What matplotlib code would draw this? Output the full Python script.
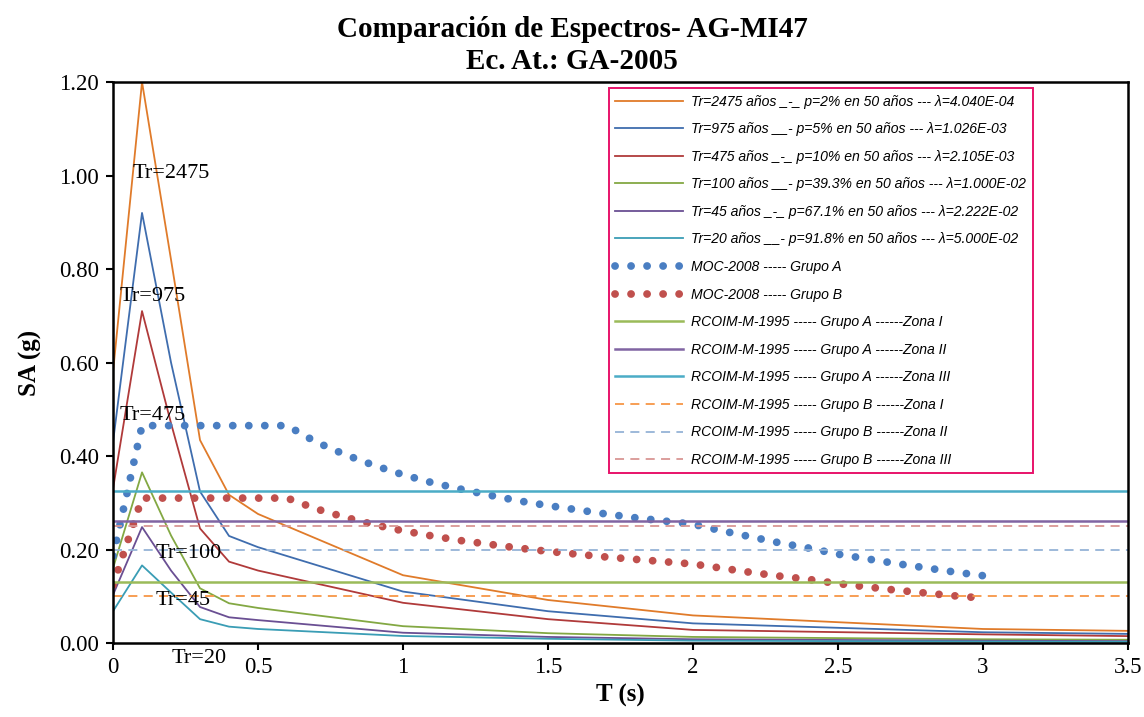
import numpy as np
import matplotlib.pyplot as plt

plt.rcParams['font.family'] = ['Liberation Serif', 'DejaVu Serif']

# espectros de amenaza uniforme (periodo en s, SA en g)
T_uhs = [0, 0.1, 0.2, 0.3, 0.4, 0.5, 1.0, 1.5, 2.0, 3.0, 4.0]
sa_2475 = [0.58, 1.20, 0.82, 0.434, 0.317, 0.276, 0.145, 0.092, 0.059, 0.030, 0.022]
sa_975 = [0.43, 0.92, 0.60, 0.324, 0.229, 0.205, 0.110, 0.068, 0.042, 0.023, 0.016]
sa_475 = [0.33, 0.71, 0.47, 0.245, 0.174, 0.155, 0.086, 0.051, 0.028, 0.0185, 0.011]
sa_100 = [0.16, 0.365, 0.23, 0.117, 0.085, 0.075, 0.036, 0.021, 0.013, 0.008, 0.006]
sa_45 = [0.103, 0.248, 0.155, 0.077, 0.055, 0.049, 0.022, 0.013, 0.008, 0.005, 0.003]
sa_20 = [0.068, 0.166, 0.108, 0.051, 0.035, 0.030, 0.015, 0.009, 0.005, 0.003, 0.002]

# MOC-2008
T_moc = [0.0, 0.1, 0.2, 0.3, 0.4, 0.5, 0.6, 0.7, 0.8, 0.9, 1.0,
         1.1, 1.2, 1.3, 1.4, 1.5, 1.6, 1.7, 1.8, 1.9, 2.0,
         2.1, 2.2, 2.3, 2.4, 2.5, 2.6, 2.7, 2.8, 2.9, 3.0]
moc_a = [0.186, 0.465, 0.465, 0.465, 0.465, 0.465, 0.465, 0.430, 0.403, 0.380, 0.360,
         0.343, 0.329, 0.316, 0.304, 0.294, 0.285, 0.276, 0.268, 0.261, 0.254,
         0.240, 0.227, 0.214, 0.203, 0.190, 0.180, 0.170, 0.161, 0.152, 0.144]
moc_b = [0.124, 0.310, 0.310, 0.310, 0.310, 0.310, 0.310, 0.287, 0.269, 0.253, 0.240,
         0.229, 0.219, 0.211, 0.203, 0.196, 0.190, 0.184, 0.179, 0.174, 0.169,
         0.160, 0.151, 0.143, 0.136, 0.127, 0.120, 0.113, 0.107, 0.101, 0.096]

# RCOIM-M-1995 (constantes)
T_rc = [0, 3.5]
rc_a = [0.13, 0.26, 0.325]
rc_b = [0.10, 0.20, 0.25]

uhs_labels = [
    "Tr=2475 años _-_ p=2% en 50 años --- λ=4.040E-04",
    "Tr=975 años __- p=5% en 50 años --- λ=1.026E-03",
    "Tr=475 años _-_ p=10% en 50 años --- λ=2.105E-03",
    "Tr=100 años __- p=39.3% en 50 años --- λ=1.000E-02",
    "Tr=45 años _-_ p=67.1% en 50 años --- λ=2.222E-02",
    "Tr=20 años __- p=91.8% en 50 años --- λ=5.000E-02",
]
zonas = ["Zona I", "Zona II", "Zona III"]

fig = plt.figure(figsize=(11.44, 7.17), dpi=100)
ax = fig.add_axes([0.0988, 0.1032, 0.8872, 0.7824])

uhs = [sa_2475, sa_975, sa_475, sa_100, sa_45, sa_20]
uhs_colors = ['#E07B2A', '#3F6DAE', '#B03A3A', '#83A843', '#6A4F93', '#3A9DB5']
handles = []
for sa, c, lab in zip(uhs, uhs_colors, uhs_labels):
    h, = ax.plot(T_uhs, sa, color=c, lw=1.3, label=lab)
    handles.append(h)

dots = dict(lw=5.6, linestyle=(0, (0.01, 2.05)), dash_capstyle='round')
h, = ax.plot(T_moc, moc_a, color='#4A7EC2', label="MOC-2008 ----- Grupo A", **dots)
handles.append(h)
h, = ax.plot(T_moc, moc_b, color='#C0504D', label="MOC-2008 ----- Grupo B", **dots)
handles.append(h)

for v, c, z in zip(rc_a, ['#9BBB59', '#8064A2', '#4BACC6'], zonas):
    h, = ax.plot(T_rc, [v, v], color=c, lw=1.8,
                 label="RCOIM-M-1995 ----- Grupo A ------" + z)
    handles.append(h)
for v, c, z in zip(rc_b, ['#F79646', '#95B3D7', '#D99694'], zonas):
    h, = ax.plot(T_rc, [v, v], color=c, lw=1.3, linestyle=(0, (5, 3.5)),
                 label="RCOIM-M-1995 ----- Grupo B ------" + z)
    handles.append(h)

# etiquetas de periodo de retorno
ax.text(0.069, 1.005, "Tr=2475", fontsize=16, va='center')
ax.text(0.021, 0.742, "Tr=975", fontsize=16, va='center')
ax.text(0.024, 0.487, "Tr=475", fontsize=16, va='center')
ax.text(0.145, 0.192, "Tr=100", fontsize=16, va='center')
ax.text(0.145, 0.091, "Tr=45", fontsize=16, va='center')
ax.text(0.203, -0.033, "Tr=20", fontsize=16, va='center', clip_on=False)

ax.set_xlim(0, 3.5)
ax.set_ylim(0, 1.2)
ax.set_xticks(np.arange(0, 3.51, 0.5))
ax.set_xticklabels(['0', '0.5', '1', '1.5', '2', '2.5', '3', '3.5'])
ax.set_yticks(np.arange(0, 1.21, 0.2))
ax.set_yticklabels(['%.2f' % v for v in np.arange(0, 1.21, 0.2)])
ax.tick_params(direction='out', length=5, width=1.5, labelsize=16.5, pad=5)
for s in ax.spines.values():
    s.set_linewidth(1.8)

ax.set_xlabel("T (s)", fontsize=18, fontweight='bold', labelpad=4)
ax.set_ylabel("SA (g)", fontsize=18, fontweight='bold', labelpad=12)
fig.suptitle("Comparación de Espectros- AG-MI47\nEc. At.: GA-2005",
             fontsize=21, fontweight='bold', y=0.978, linespacing=1.27)

leg = ax.legend(handles=handles, loc='upper left', bbox_to_anchor=(0.532, 0.877),
                bbox_transform=fig.transFigure, fancybox=False, framealpha=1,
                edgecolor='#E8136A', borderaxespad=0, handlelength=4.85,
                handletextpad=0.6, labelspacing=0.968, borderpad=0.45,
                prop={'family': 'Liberation Sans', 'style': 'italic', 'size': 10.1})
leg.get_frame().set_linewidth(1.4)

fig.savefig('out.png', dpi=100)
